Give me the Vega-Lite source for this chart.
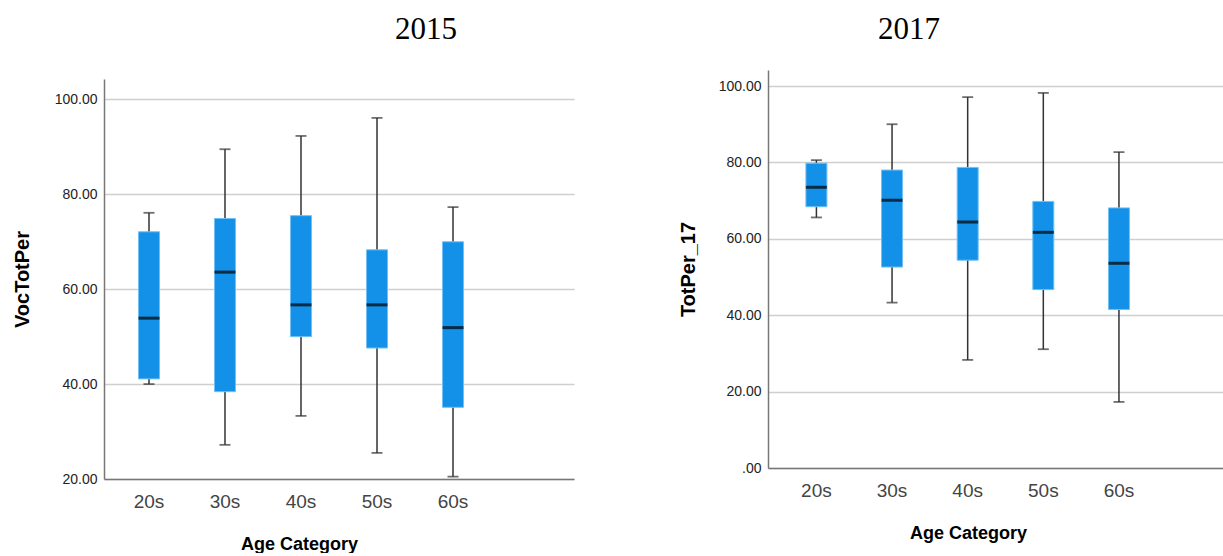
{
  "$schema": "https://vega.github.io/schema/vega-lite/v6.json",
  "padding": {"left": 12, "top": 14, "right": 0, "bottom": 0},
  "background": "white",
  "spacing": 104,
  "config": {
    "view": {"stroke": null},
    "font": "Liberation Sans",
    "title": {"font": "Liberation Serif", "fontSize": 31, "fontWeight": "normal", "color": "#000000", "offset": 24},
    "axis": {"labelFont": "Liberation Sans", "titleFont": "Liberation Sans", "titleFontWeight": "bold", "titleColor": "#000000", "domainColor": "#777777", "domainWidth": 1.5, "ticks": false, "gridColor": "#cfcfcf", "gridWidth": 1.5},
    "axisY": {"labelFontSize": 14, "labelColor": "#222222", "labelPadding": 7, "titleFontSize": 20, "titlePadding": 20, "grid": true},
    "axisX": {"labelFontSize": 19, "labelColor": "#444444", "labelPadding": 13, "titleFontSize": 18, "titlePadding": 24, "grid": false, "labelAngle": 0}
  },
  "datasets": {
    "boxes": [
      {"year": 2015, "age": "20s", "lower": 40.0, "q1": 41.1, "median": 53.9, "q3": 72.1, "upper": 76.1},
      {"year": 2015, "age": "30s", "lower": 27.2, "q1": 38.4, "median": 63.6, "q3": 74.9, "upper": 89.5},
      {"year": 2015, "age": "40s", "lower": 33.3, "q1": 50.0, "median": 56.7, "q3": 75.5, "upper": 92.3},
      {"year": 2015, "age": "50s", "lower": 25.5, "q1": 47.6, "median": 56.7, "q3": 68.3, "upper": 96.1},
      {"year": 2015, "age": "60s", "lower": 20.5, "q1": 35.1, "median": 51.9, "q3": 70.0, "upper": 77.3},
      {"year": 2017, "age": "20s", "lower": 65.6, "q1": 68.4, "median": 73.5, "q3": 79.8, "upper": 80.6},
      {"year": 2017, "age": "30s", "lower": 43.3, "q1": 52.6, "median": 70.1, "q3": 78.0, "upper": 90.0},
      {"year": 2017, "age": "40s", "lower": 28.3, "q1": 54.4, "median": 64.4, "q3": 78.7, "upper": 97.1},
      {"year": 2017, "age": "50s", "lower": 31.1, "q1": 46.7, "median": 61.7, "q3": 69.8, "upper": 98.2},
      {"year": 2017, "age": "60s", "lower": 17.3, "q1": 41.5, "median": 53.6, "q3": 68.1, "upper": 82.7}
    ]
  },
  "data": {"name": "boxes"},
  "hconcat": [
    {
      "title": {"text": "2015", "anchor": "start", "frame": "group", "dx": 291},
      "spacing": 8,
      "vconcat": [
        {
          "width": 470,
          "height": 1,
          "data": {"values": []},
          "mark": "point"
        },
        {
          "width": 470,
          "height": 400,
          "transform": [{"filter": "datum.year == 2015"}],
          "encoding": {
            "x": {"field": "age", "type": "nominal", "title": "Age Category",
              "scale": {"domain": ["20s", "30s", "40s", "50s", "60s", "~"], "paddingInner": 0, "paddingOuter": 0.092},
              "axis": {"titleX": 195, "labelExpr": "datum.label == '~' ? '' : datum.label"}}
          },
          "layer": [
            {"mark": {"type": "rule", "color": "#333333", "strokeWidth": 1.5},
             "encoding": {
               "y": {"field": "lower", "type": "quantitative", "title": "VocTotPer",
                 "scale": {"domain": [20, 104.3], "nice": false, "zero": false},
                 "axis": {"values": [20, 40, 60, 80, 100], "titlePadding": 22, "labelExpr": "datum.value == 0 ? '.00' : format(datum.value, '.2f')"}},
               "y2": {"field": "upper"}}},
            {"mark": {"type": "bar", "width": 21, "color": "#1391E8", "stroke": "#72C0F5", "strokeWidth": 1},
             "encoding": {"y": {"field": "q1", "type": "quantitative", "title": "VocTotPer"}, "y2": {"field": "q3"}}},
            {"mark": {"type": "tick", "color": "#000000", "size": 21, "thickness": 3},
             "encoding": {"y": {"field": "median", "type": "quantitative", "title": "VocTotPer"}}},
            {"mark": {"type": "tick", "color": "#333333", "size": 11, "thickness": 1.8},
             "encoding": {"y": {"field": "lower", "type": "quantitative", "title": "VocTotPer"}}},
            {"mark": {"type": "tick", "color": "#333333", "size": 11, "thickness": 1.8},
             "encoding": {"y": {"field": "upper", "type": "quantitative", "title": "VocTotPer"}}}
          ]
        }
      ]
    },
    {
      "title": {"text": "2017", "anchor": "start", "frame": "group", "dx": 110},
      "width": 475,
      "height": 398,
      "transform": [{"filter": "datum.year == 2017"}],
      "encoding": {
        "x": {"field": "age", "type": "nominal", "title": "Age Category",
          "scale": {"domain": ["20s", "30s", "40s", "50s", "60s", "~"], "paddingInner": 0, "paddingOuter": 0.14},
          "axis": {"titleX": 200, "labelExpr": "datum.label == '~' ? '' : datum.label"}}
      },
      "layer": [
        {"mark": {"type": "rule", "color": "#333333", "strokeWidth": 1.5},
         "encoding": {
           "y": {"field": "lower", "type": "quantitative", "title": "TotPer_17",
             "scale": {"domain": [0, 104.2], "nice": false, "zero": false},
             "axis": {"values": [0, 20, 40, 60, 80, 100], "titlePadding": 20, "labelExpr": "datum.value == 0 ? '.00' : format(datum.value, '.2f')"}},
           "y2": {"field": "upper"}}},
        {"mark": {"type": "bar", "width": 21, "color": "#1391E8", "stroke": "#72C0F5", "strokeWidth": 1},
         "encoding": {"y": {"field": "q1", "type": "quantitative", "title": "TotPer_17"}, "y2": {"field": "q3"}}},
        {"mark": {"type": "tick", "color": "#000000", "size": 21, "thickness": 3},
         "encoding": {"y": {"field": "median", "type": "quantitative", "title": "TotPer_17"}}},
        {"mark": {"type": "tick", "color": "#333333", "size": 11, "thickness": 1.8},
         "encoding": {"y": {"field": "lower", "type": "quantitative", "title": "TotPer_17"}}},
        {"mark": {"type": "tick", "color": "#333333", "size": 11, "thickness": 1.8},
         "encoding": {"y": {"field": "upper", "type": "quantitative", "title": "TotPer_17"}}}
      ]
    }
  ]
}
